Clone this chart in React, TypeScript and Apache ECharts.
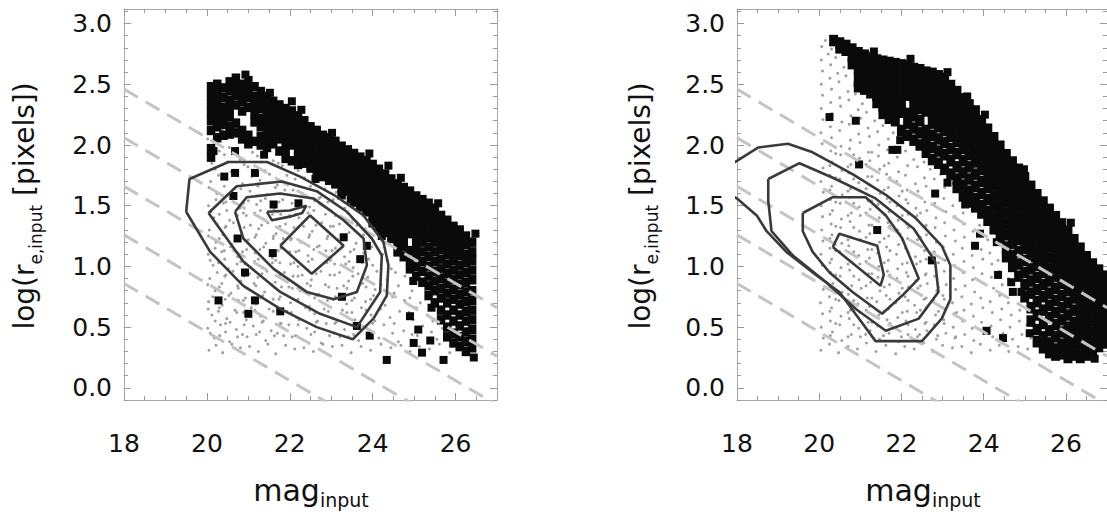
import React, { useEffect, useRef } from "react";
import * as echarts from "echarts";

// ---------- axes ----------
const xTicks = [18, 20, 22, 24, 26];
const yTicks = [0, 0.5, 1, 1.5, 2, 2.5, 3];
const X_MIN = 18;
const X_MAX = 27;
const Y_MIN = -0.1;
const Y_MAX = 3.12;
const X_MINOR = 0.5;
const Y_MINOR = 0.1;

// ---------- dashed constant-surface-brightness lines (same in both panels) ----------
const dashLines: number[][][] = [
  [[18, 2.46], [27, 0.66]],
  [[18, 2.06], [27, 0.26]],
  [[18, 1.66], [27, -0.14]],
  [[18, 1.26], [27, -0.54]],
  [[18, 0.86], [27, -0.94]],
];

// ---------- LEFT PANEL ----------
const grayLeft: number[] = [
  20.05,0.31, 20.38,0.29, 20.81,0.33, 21.24,0.30, 21.66,0.28, 22.12,0.32, 22.57,0.30, 23.03,0.34, 23.48,0.29, 23.95,0.31, 24.44,0.33, 24.9,0.3, 25.37,0.32, 25.86,0.29,
  20.22,0.35, 20.6,0.36, 21.03,0.34, 21.47,0.36, 21.9,0.35, 22.34,0.33, 22.8,0.36, 23.26,0.35, 23.72,0.34, 24.2,0.36, 24.68,0.35, 25.13,0.34, 25.61,0.36, 26.1,0.35,
  20.18,0.41, 20.55,0.38, 20.97,0.42, 21.42,0.39, 21.85,0.43, 22.3,0.40, 22.76,0.37, 23.21,0.42, 23.66,0.39, 24.15,0.41, 24.62,0.38, 25.08,0.43, 25.55,0.4, 26.02,0.38,
  20.08,0.45, 20.45,0.46, 20.86,0.44, 21.27,0.46, 21.7,0.45, 22.14,0.43, 22.6,0.46, 23.07,0.45, 23.54,0.44, 24.0,0.46, 24.48,0.45, 24.95,0.44, 25.42,0.46, 25.9,0.44,
  20.02,0.49, 20.33,0.52, 20.71,0.48, 21.12,0.51, 21.55,0.47, 21.98,0.52, 22.41,0.49, 22.88,0.53, 23.32,0.48, 23.79,0.5, 24.27,0.52, 24.75,0.47, 25.21,0.51, 25.68,0.49,
  20.2,0.55, 20.56,0.54, 20.95,0.56, 21.36,0.55, 21.79,0.53, 22.22,0.56, 22.67,0.55, 23.12,0.54, 23.57,0.56, 24.05,0.55, 24.52,0.53, 24.98,0.56, 25.45,0.55,
  20.12,0.6, 20.48,0.57, 20.88,0.62, 21.3,0.59, 21.71,0.63, 22.16,0.58, 22.6,0.61, 23.05,0.57, 23.5,0.62, 23.96,0.6, 24.42,0.58, 24.88,0.62, 25.32,0.6,
  20.03,0.65, 20.3,0.66, 20.68,0.64, 21.07,0.66, 21.5,0.65, 21.93,0.63, 22.38,0.66, 22.83,0.65, 23.27,0.64, 23.73,0.66, 24.19,0.65, 24.65,0.63, 25.05,0.66,
  20.04,0.71, 20.37,0.68, 20.76,0.72, 21.18,0.69, 21.6,0.73, 22.02,0.7, 22.47,0.67, 22.91,0.72, 23.37,0.69, 23.83,0.71, 24.3,0.68, 24.77,0.72, 25.15,0.7,
  20.14,0.75, 20.53,0.76, 20.93,0.74, 21.35,0.76, 21.77,0.75, 22.2,0.73, 22.65,0.76, 23.1,0.75, 23.56,0.74, 24.02,0.76, 24.48,0.75, 24.9,0.74,
  20.2,0.8, 20.58,0.78, 20.97,0.82, 21.39,0.79, 21.8,0.83, 22.25,0.8, 22.69,0.77, 23.14,0.82, 23.6,0.79, 24.06,0.81, 24.52,0.78, 24.95,0.8,
  20.02,0.85, 20.36,0.86, 20.74,0.84, 21.14,0.86, 21.56,0.85, 21.98,0.83, 22.42,0.86, 22.86,0.85, 23.3,0.84, 23.76,0.86, 24.2,0.85, 24.62,0.84,
  20.07,0.9, 20.43,0.92, 20.82,0.88, 21.23,0.91, 21.65,0.87, 22.08,0.92, 22.52,0.89, 22.97,0.93, 23.42,0.88, 23.88,0.91, 24.35,0.89, 24.78,0.92,
  20.25,0.95, 20.63,0.96, 21.03,0.94, 21.45,0.96, 21.87,0.95, 22.3,0.93, 22.75,0.96, 23.2,0.95, 23.65,0.94, 24.1,0.96, 24.55,0.95,
  20.15,1.01, 20.52,0.98, 20.92,1.02, 21.34,0.99, 21.76,1.03, 22.2,1.0, 22.63,0.97, 23.08,1.02, 23.53,0.99, 24.0,1.01, 24.45,0.98,
  20.08,1.05, 20.43,1.06, 20.82,1.04, 21.24,1.06, 21.66,1.05, 22.1,1.03, 22.54,1.06, 22.98,1.05, 23.43,1.04, 23.9,1.06, 24.35,1.05,
  20.03,1.1, 20.36,1.12, 20.74,1.08, 21.16,1.11, 21.58,1.07, 22.0,1.12, 22.44,1.09, 22.87,1.13, 23.32,1.08, 23.78,1.11, 24.24,1.1,
  20.2,1.15, 20.57,1.16, 20.96,1.14, 21.37,1.16, 21.79,1.15, 22.22,1.13, 22.66,1.16, 23.1,1.15, 23.55,1.14, 23.98,1.16,
  20.22,1.2, 20.6,1.18, 21.0,1.22, 21.42,1.19, 21.84,1.23, 22.27,1.2, 22.71,1.17, 23.15,1.22, 23.6,1.19, 24.02,1.21,
  20.04,1.25, 20.39,1.26, 20.78,1.24, 21.19,1.26, 21.61,1.25, 22.04,1.23, 22.48,1.26, 22.92,1.25, 23.37,1.24, 23.78,1.26,
  20.06,1.3, 20.44,1.32, 20.83,1.28, 21.25,1.31, 21.67,1.27, 22.1,1.32, 22.54,1.29, 22.98,1.33, 23.43,1.28, 23.82,1.31,
  20.24,1.35, 20.64,1.36, 21.05,1.34, 21.47,1.36, 21.9,1.35, 22.33,1.33, 22.77,1.36, 23.2,1.35, 23.62,1.34,
  20.17,1.4, 20.55,1.38, 20.95,1.42, 21.36,1.39, 21.78,1.43, 22.22,1.4, 22.66,1.37, 23.1,1.42, 23.52,1.39,
  20.1,1.45, 20.48,1.46, 20.88,1.44, 21.29,1.46, 21.71,1.45, 22.14,1.43, 22.58,1.46, 23.02,1.45, 23.4,1.44,
  20.04,1.5, 20.4,1.52, 20.79,1.48, 21.2,1.51, 21.62,1.47, 22.05,1.52, 22.48,1.49, 22.92,1.53, 23.33,1.48,
  20.22,1.55, 20.6,1.56, 21.0,1.54, 21.41,1.56, 21.83,1.55, 22.26,1.53, 22.7,1.56, 23.05,1.55,
  20.24,1.6, 20.63,1.58, 21.04,1.62, 21.46,1.59, 21.88,1.63, 22.31,1.6, 22.74,1.57, 23.12,1.61,
  20.05,1.65, 20.42,1.66, 20.82,1.64, 21.23,1.66, 21.65,1.65, 22.08,1.63, 22.5,1.66, 22.85,1.64,
  20.09,1.7, 20.47,1.72, 20.86,1.68, 21.28,1.71, 21.7,1.67, 22.13,1.72, 22.55,1.69,
  20.28,1.75, 20.68,1.76, 21.09,1.74, 21.51,1.76, 21.93,1.75, 22.35,1.73,
  20.2,1.8, 20.58,1.78, 20.99,1.82, 21.4,1.79, 21.82,1.83, 22.2,1.79,
  20.12,1.85, 20.5,1.86, 20.9,1.84, 21.32,1.86, 21.72,1.85,
  20.05,1.9, 20.42,1.92, 20.8,1.88, 21.22,1.91, 21.6,1.87,
  20.3,1.95, 20.7,1.96, 21.1,1.94,
  20.16,2.0, 20.54,1.98, 20.93,2.02,
  20.02,2.05, 20.3,2.06,
  20.06,2.1, 20.38,2.12,
  // denser core
  20.31,0.43, 20.74,0.42, 21.19,0.44, 21.63,0.43, 22.06,0.42, 22.51,0.44, 22.96,0.43, 23.41,0.42, 23.86,0.44,
  20.45,0.53, 20.9,0.52, 21.33,0.54, 21.77,0.53, 22.2,0.52, 22.64,0.54, 23.09,0.53, 23.53,0.52, 24.0,0.53,
  20.28,0.63, 20.72,0.62, 21.16,0.64, 21.6,0.63, 22.04,0.62, 22.48,0.64, 22.93,0.63, 23.38,0.62, 23.84,0.64,
  20.44,0.73, 20.88,0.72, 21.3,0.74, 21.74,0.73, 22.17,0.72, 22.6,0.74, 23.05,0.73, 23.5,0.72, 23.95,0.73,
  20.3,0.83, 20.76,0.82, 21.18,0.84, 21.62,0.83, 22.06,0.82, 22.5,0.84, 22.94,0.83, 23.38,0.82, 23.84,0.83,
  20.46,0.93, 20.9,0.92, 21.33,0.94, 21.77,0.93, 22.2,0.92, 22.64,0.94, 23.08,0.93, 23.52,0.92,
  20.28,1.03, 20.73,1.02, 21.15,1.04, 21.58,1.03, 22.02,1.02, 22.45,1.04, 22.9,1.03, 23.35,1.02, 23.75,1.03,
  20.42,1.13, 20.86,1.12, 21.28,1.14, 21.72,1.13, 22.15,1.12, 22.58,1.14, 23.02,1.13, 23.46,1.12,
  20.3,1.23, 20.74,1.22, 21.16,1.24, 21.6,1.23, 22.02,1.22, 22.46,1.24, 22.9,1.23, 23.3,1.22,
  20.46,1.33, 20.9,1.32, 21.32,1.34, 21.76,1.33, 22.2,1.32, 22.63,1.34, 23.05,1.33,
  20.3,1.43, 20.74,1.42, 21.15,1.44, 21.58,1.43, 22.0,1.42, 22.44,1.44, 22.86,1.43,
  20.46,1.53, 20.88,1.52, 21.3,1.54, 21.74,1.53, 22.16,1.52, 22.6,1.54,
];

const blackLeftCols: [number, number[]][] = [
  [20.1, [2.48, 2.41, 2.34, 2.27, 2.2, 2.12, 1.97, 1.9]],
  [20.25, [2.5, 2.43, 2.36, 2.29, 2.22, 2.15, 2.06]],
  [20.4, [2.47, 2.39, 2.31, 2.24, 2.17, 2.08]],
  [20.55, [2.52, 2.45, 2.37, 2.3, 2.23, 2.15, 2.09]],
  [20.7, [2.55, 2.48, 2.41, 2.33, 2.18, 2.1]],
  [20.85, [2.5, 2.43, 2.36, 2.28, 2.12, 2.05]],
  [21.0, [2.53, 2.46, 2.39, 2.31, 2.08, 2.01]],
  [21.15, [2.48, 2.4, 2.33, 2.26, 2.19, 2.03]],
  [21.3, [2.44, 2.37, 2.3, 2.22, 2.15, 2.07, 2.0]],
  [21.45, [2.4, 2.33, 2.26, 2.19, 2.12, 2.05, 1.98]],
  [21.6, [2.36, 2.29, 2.22, 2.15, 2.08, 2.01]],
  [21.75, [2.33, 2.26, 2.19, 2.12, 2.05, 1.95]],
  [21.9, [2.3, 2.23, 2.16, 2.09, 2.02, 1.95, 1.89]],
  [22.05, [2.28, 2.21, 2.14, 2.07, 2.0, 1.87]],
  [22.2, [2.24, 2.17, 2.1, 2.03, 1.96, 1.9, 1.84]],
  [22.35, [2.2, 2.13, 2.06, 1.99, 1.92, 1.85]],
  [22.5, [2.15, 2.08, 2.01, 1.94, 1.87, 1.81]],
  [22.65, [2.12, 2.05, 1.98, 1.91, 1.84, 1.77]],
  [22.8, [2.08, 2.01, 1.94, 1.87, 1.8, 1.74]],
  [22.95, [2.06, 1.99, 1.92, 1.85, 1.78, 1.71]],
  [23.1, [2.03, 1.96, 1.89, 1.82, 1.75, 1.68]],
  [23.25, [1.99, 1.92, 1.85, 1.78, 1.71, 1.65, 1.59]],
  [23.4, [1.96, 1.89, 1.82, 1.75, 1.68, 1.62]],
  [23.55, [1.93, 1.86, 1.79, 1.72, 1.65, 1.58, 1.53]],
  [23.7, [1.9, 1.83, 1.76, 1.69, 1.62, 1.55, 1.49]],
  [23.85, [1.87, 1.8, 1.73, 1.66, 1.59, 1.52, 1.45]],
  [24.0, [1.84, 1.77, 1.7, 1.63, 1.56, 1.49, 1.42, 1.36]],
  [24.15, [1.8, 1.73, 1.66, 1.59, 1.53, 1.46, 1.39, 1.32]],
  [24.3, [1.76, 1.69, 1.62, 1.56, 1.49, 1.42, 1.35, 1.28]],
  [24.45, [1.72, 1.65, 1.58, 1.51, 1.44, 1.37, 1.3, 1.23]],
  [24.6, [1.68, 1.61, 1.54, 1.47, 1.4, 1.33, 1.26, 1.19, 1.12]],
  [24.75, [1.65, 1.58, 1.51, 1.44, 1.37, 1.3, 1.23, 1.16, 1.08]],
  [24.9, [1.62, 1.55, 1.48, 1.41, 1.34, 1.27, 1.13, 1.05, 0.98]],
  [25.05, [1.58, 1.51, 1.44, 1.37, 1.3, 1.23, 1.16, 1.09, 1.0, 0.92]],
  [25.2, [1.55, 1.48, 1.41, 1.34, 1.27, 1.2, 1.12, 1.04, 0.96, 0.87]],
  [25.35, [1.52, 1.45, 1.38, 1.31, 1.24, 1.16, 1.08, 1.0, 0.92, 0.84, 0.76]],
  [25.5, [1.48, 1.41, 1.34, 1.27, 1.2, 1.12, 1.04, 0.96, 0.88, 0.8, 0.7]],
  [25.65, [1.42, 1.35, 1.28, 1.21, 1.14, 1.06, 0.98, 0.9, 0.82, 0.74, 0.64, 0.56]],
  [25.8, [1.38, 1.31, 1.24, 1.17, 1.1, 1.02, 0.94, 0.86, 0.78, 0.7, 0.6, 0.5, 0.42]],
  [25.95, [1.33, 1.26, 1.19, 1.12, 1.05, 0.97, 0.89, 0.81, 0.73, 0.64, 0.55, 0.45, 0.37]],
  [26.1, [1.3, 1.23, 1.16, 1.09, 1.01, 0.93, 0.85, 0.77, 0.69, 0.6, 0.51, 0.42, 0.34]],
  [26.25, [1.25, 1.18, 1.1, 1.03, 0.95, 0.87, 0.79, 0.71, 0.63, 0.55, 0.46, 0.38, 0.3]],
  [26.4, [1.2, 1.12, 1.05, 0.97, 0.89, 0.8, 0.72, 0.64, 0.56, 0.48, 0.4, 0.33]],
];

const blackLeftExtra: number[][] = [
  [20.42, 1.74], [20.68, 1.77], [21.16, 1.77], [20.64, 1.58], [21.61, 1.51], [22.21, 1.52],
  [20.74, 1.23], [21.59, 1.11], [23.3, 1.24], [23.86, 1.17], [23.7, 1.06], [20.92, 0.95],
  [20.28, 0.72], [21.16, 0.72], [21.0, 0.61], [21.77, 0.63], [23.26, 0.75], [23.62, 0.51],
  [23.93, 0.43], [24.34, 0.23], [24.9, 0.59], [25.1, 0.48], [24.99, 0.37], [25.19, 0.29],
  [25.39, 0.39], [25.71, 0.23], [26.44, 0.25], [20.16, 1.95], [20.68, 1.95],
  [20.93, 2.58], [21.52, 2.43], [22.28, 2.29], [23.02, 2.1], [23.92, 1.93], [24.68, 1.73],
  [25.58, 1.52], [26.48, 1.27], [21.38, 1.92], [22.62, 1.72], [23.47, 1.55], [24.22, 1.25],
  [24.98, 0.88], [25.42, 0.66], [22.05, 2.36], [24.38, 1.83],
];

const contoursLeft: number[][][] = [
  [[19.5, 1.45], [19.58, 1.72], [20.52, 1.86], [21.45, 1.86], [22.25, 1.74], [23.06, 1.59], [23.78, 1.42], [24.26, 1.2], [24.38, 1.01], [24.34, 0.76], [24.02, 0.57], [23.52, 0.4], [22.65, 0.5], [21.77, 0.65], [20.88, 0.84], [20.08, 1.12]],
  [[20.04, 1.44], [20.72, 1.66], [21.81, 1.7], [22.65, 1.62], [23.38, 1.45], [23.98, 1.23], [24.22, 1.09], [24.18, 0.79], [23.62, 0.5], [22.73, 0.61], [21.77, 0.79], [20.88, 1.04]],
  [[20.68, 1.45], [20.96, 1.57], [21.77, 1.6], [22.57, 1.56], [23.3, 1.38], [23.78, 1.23], [23.86, 1.01], [23.62, 0.79], [23.06, 0.73], [22.41, 0.79], [21.61, 0.98], [20.88, 1.23]],
  [[21.77, 1.17], [22.49, 1.42], [23.3, 1.17], [22.53, 0.94]],
  [[21.45, 1.45], [21.57, 1.38], [22.0, 1.41], [22.3, 1.44], [22.4, 1.5], [22.0, 1.46]],
];

// ---------- RIGHT PANEL ----------
const grayRight: number[] = [
  20.04,0.31, 20.47,0.29, 20.93,0.32, 21.38,0.3, 21.86,0.28, 22.31,0.32, 22.77,0.3, 23.24,0.33, 23.7,0.29, 24.16,0.31, 24.61,0.3, 25.07,0.32, 25.52,0.29,
  20.25,0.36, 20.7,0.34, 21.15,0.37, 21.62,0.35, 22.08,0.34, 22.54,0.37, 23.0,0.35, 23.47,0.34, 23.92,0.36, 24.38,0.35, 24.84,0.34, 25.3,0.36, 25.78,0.35,
  20.1,0.41, 20.55,0.39, 21.0,0.42, 21.47,0.4, 21.93,0.38, 22.39,0.42, 22.85,0.4, 23.3,0.41, 23.76,0.39, 24.22,0.42, 24.7,0.4, 25.15,0.41,
  20.32,0.46, 20.78,0.44, 21.24,0.47, 21.7,0.45, 22.16,0.44, 22.62,0.47, 23.08,0.45, 23.54,0.44, 24.0,0.46, 24.47,0.45, 24.93,0.44,
  20.05,0.5, 20.5,0.52, 20.96,0.49, 21.42,0.51, 21.88,0.5, 22.34,0.48, 22.8,0.52, 23.26,0.5, 23.72,0.49, 24.18,0.51, 24.64,0.5, 25.05,0.52,
  20.27,0.55, 20.73,0.57, 21.19,0.54, 21.65,0.56, 22.11,0.55, 22.57,0.53, 23.03,0.56, 23.49,0.55, 23.95,0.54, 24.41,0.56, 24.87,0.55,
  20.08,0.61, 20.53,0.59, 20.99,0.62, 21.45,0.6, 21.91,0.58, 22.37,0.62, 22.83,0.6, 23.29,0.61, 23.75,0.59, 24.21,0.62, 24.67,0.6,
  20.3,0.66, 20.76,0.64, 21.22,0.67, 21.68,0.65, 22.14,0.63, 22.6,0.66, 23.06,0.65, 23.52,0.64, 23.98,0.66, 24.44,0.65, 24.88,0.64,
  20.03,0.7, 20.48,0.72, 20.94,0.69, 21.4,0.71, 21.86,0.7, 22.32,0.68, 22.78,0.72, 23.24,0.7, 23.7,0.69, 24.16,0.71, 24.6,0.7,
  20.25,0.75, 20.71,0.77, 21.17,0.74, 21.63,0.76, 22.09,0.75, 22.55,0.73, 23.01,0.76, 23.47,0.75, 23.93,0.74, 24.39,0.76,
  20.1,0.81, 20.56,0.79, 21.02,0.82, 21.48,0.8, 21.94,0.78, 22.4,0.82, 22.86,0.8, 23.32,0.81, 23.78,0.79, 24.24,0.82, 24.65,0.8,
  20.33,0.86, 20.79,0.84, 21.25,0.87, 21.71,0.85, 22.17,0.83, 22.63,0.86, 23.09,0.85, 23.55,0.84, 24.01,0.86, 24.45,0.85,
  20.05,0.9, 20.51,0.92, 20.97,0.89, 21.43,0.91, 21.89,0.9, 22.35,0.88, 22.81,0.92, 23.27,0.9, 23.73,0.89, 24.19,0.91, 24.6,0.9,
  20.28,0.95, 20.74,0.97, 21.2,0.94, 21.66,0.96, 22.12,0.95, 22.58,0.93, 23.04,0.96, 23.5,0.95, 23.96,0.94, 24.38,0.96,
  20.07,1.01, 20.53,0.99, 20.99,1.02, 21.45,1.0, 21.91,0.98, 22.37,1.02, 22.83,1.0, 23.29,1.01, 23.75,0.99, 24.2,1.02,
  20.3,1.06, 20.76,1.04, 21.22,1.07, 21.68,1.05, 22.14,1.03, 22.6,1.06, 23.06,1.05, 23.52,1.04, 23.98,1.06, 24.35,1.05,
  20.04,1.1, 20.5,1.12, 20.96,1.09, 21.42,1.11, 21.88,1.1, 22.34,1.08, 22.8,1.12, 23.26,1.1, 23.72,1.09, 24.15,1.11,
  20.26,1.15, 20.72,1.17, 21.18,1.14, 21.64,1.16, 22.1,1.15, 22.56,1.13, 23.02,1.16, 23.48,1.15, 23.94,1.14,
  20.09,1.21, 20.55,1.19, 21.01,1.22, 21.47,1.2, 21.93,1.18, 22.39,1.22, 22.85,1.2, 23.31,1.21, 23.77,1.19, 24.1,1.22,
  20.31,1.26, 20.77,1.24, 21.23,1.27, 21.69,1.25, 22.15,1.23, 22.61,1.26, 23.07,1.25, 23.53,1.24, 23.95,1.26,
  20.06,1.3, 20.52,1.32, 20.98,1.29, 21.44,1.31, 21.9,1.3, 22.36,1.28, 22.82,1.32, 23.28,1.3, 23.74,1.29,
  20.29,1.35, 20.75,1.37, 21.21,1.34, 21.67,1.36, 22.13,1.35, 22.59,1.33, 23.05,1.36, 23.51,1.35, 23.9,1.34,
  20.08,1.41, 20.54,1.39, 21.0,1.42, 21.46,1.4, 21.92,1.38, 22.38,1.42, 22.84,1.4, 23.3,1.41,
  20.32,1.46, 20.78,1.44, 21.24,1.47, 21.7,1.45, 22.16,1.43, 22.62,1.46, 23.08,1.45, 23.5,1.44,
  20.05,1.5, 20.51,1.52, 20.97,1.49, 21.43,1.51, 21.89,1.5, 22.35,1.48, 22.81,1.52, 23.25,1.5,
  20.27,1.55, 20.73,1.57, 21.19,1.54, 21.65,1.56, 22.11,1.55, 22.57,1.53, 23.03,1.56, 23.45,1.55,
  20.1,1.61, 20.56,1.59, 21.02,1.62, 21.48,1.6, 21.94,1.58, 22.4,1.62, 22.86,1.6,
  20.3,1.66, 20.76,1.64, 21.22,1.67, 21.68,1.65, 22.14,1.63, 22.6,1.66, 23.05,1.65,
  20.04,1.7, 20.5,1.72, 20.96,1.69, 21.42,1.71, 21.88,1.7, 22.34,1.68, 22.8,1.72,
  20.26,1.75, 20.72,1.77, 21.18,1.74, 21.64,1.76, 22.1,1.75, 22.56,1.73, 22.95,1.76,
  20.09,1.81, 20.55,1.79, 21.01,1.82, 21.47,1.8, 21.93,1.78, 22.39,1.82, 22.7,1.8,
  20.31,1.86, 20.77,1.84, 21.23,1.87, 21.69,1.85, 22.15,1.83, 22.55,1.86,
  20.06,1.9, 20.52,1.92, 20.98,1.89, 21.44,1.91, 21.9,1.9, 22.3,1.88,
  20.28,1.95, 20.74,1.97, 21.2,1.94, 21.66,1.96, 22.1,1.95,
  20.07,2.01, 20.53,1.99, 20.99,2.02, 21.45,2.0, 21.9,1.98,
  20.3,2.06, 20.76,2.04, 21.22,2.07, 21.68,2.05,
  20.04,2.1, 20.5,2.12, 20.96,2.09, 21.42,2.11, 21.8,2.1,
  20.27,2.15, 20.73,2.17, 21.19,2.14, 21.55,2.16,
  20.09,2.21, 20.55,2.19, 21.01,2.22, 21.35,2.2,
  20.31,2.26, 20.77,2.24, 21.15,2.27,
  20.05,2.3, 20.52,2.32, 20.95,2.29,
  20.28,2.35, 20.72,2.37, 21.05,2.34,
  20.08,2.41, 20.5,2.39, 20.88,2.42,
  20.3,2.46, 20.7,2.44,
  20.05,2.5, 20.48,2.52, 20.85,2.49,
  20.26,2.55, 20.65,2.57,
  20.08,2.61, 20.45,2.59,
  20.28,2.66, 20.6,2.64,
  20.05,2.7, 20.4,2.72,
  20.22,2.75,
  20.06,2.81, 20.3,2.79,
  20.15,2.86,
  // denser core
  20.27,0.43, 20.7,0.42, 21.13,0.44, 21.56,0.43, 22.0,0.42, 22.44,0.44, 22.88,0.43, 23.32,0.42,
  20.4,0.53, 20.84,0.52, 21.28,0.54, 21.72,0.53, 22.16,0.52, 22.6,0.54, 23.04,0.53,
  20.26,0.63, 20.7,0.62, 21.14,0.64, 21.58,0.63, 22.02,0.62, 22.46,0.64, 22.9,0.63, 23.34,0.62,
  20.4,0.73, 20.84,0.72, 21.28,0.74, 21.72,0.73, 22.16,0.72, 22.6,0.74, 23.04,0.73,
  20.26,0.83, 20.7,0.82, 21.14,0.84, 21.58,0.83, 22.02,0.82, 22.46,0.84, 22.9,0.83,
  20.4,0.93, 20.84,0.92, 21.28,0.94, 21.72,0.93, 22.16,0.92, 22.6,0.94,
  20.26,1.03, 20.7,1.02, 21.14,1.04, 21.58,1.03, 22.02,1.02, 22.46,1.04, 22.9,1.03,
  20.4,1.13, 20.84,1.12, 21.28,1.14, 21.72,1.13, 22.16,1.12, 22.6,1.14,
  20.26,1.23, 20.7,1.22, 21.14,1.24, 21.58,1.23, 22.02,1.22, 22.46,1.24,
  20.4,1.33, 20.84,1.32, 21.28,1.34, 21.72,1.33, 22.16,1.32, 22.6,1.34,
  20.26,1.43, 20.7,1.42, 21.14,1.44, 21.58,1.43, 22.02,1.42, 22.46,1.44,
  20.4,1.53, 20.84,1.52, 21.28,1.54, 21.72,1.53, 22.16,1.52,
  20.26,1.63, 20.7,1.62, 21.14,1.64, 21.58,1.63, 22.02,1.62,
  20.4,1.73, 20.84,1.72, 21.28,1.74, 21.72,1.73,
  20.26,1.83, 20.7,1.82, 21.14,1.84, 21.58,1.83,
  20.4,1.93, 20.84,1.92, 21.28,1.94,
];

const blackRightCols: [number, number[]][] = [
  [20.35, [2.86]],
  [20.5, [2.84, 2.8]],
  [20.65, [2.82, 2.78]],
  [20.8, [2.79, 2.73, 2.67]],
  [20.95, [2.76, 2.7, 2.63, 2.55, 2.48]],
  [21.1, [2.74, 2.68, 2.61, 2.54, 2.46]],
  [21.25, [2.72, 2.65, 2.58, 2.51, 2.43]],
  [21.4, [2.7, 2.63, 2.56, 2.49, 2.41, 2.35]],
  [21.55, [2.69, 2.62, 2.55, 2.48, 2.4, 2.32, 2.26]],
  [21.7, [2.68, 2.6, 2.53, 2.46, 2.38, 2.3, 2.22]],
  [21.85, [2.67, 2.6, 2.52, 2.44, 2.36, 2.28, 2.2]],
  [22.0, [2.66, 2.59, 2.51, 2.43, 2.35, 2.27, 2.12]],
  [22.15, [2.65, 2.57, 2.49, 2.41, 2.26, 2.18, 2.08]],
  [22.3, [2.63, 2.56, 2.48, 2.4, 2.32, 2.24, 2.14, 2.04]],
  [22.45, [2.62, 2.54, 2.46, 2.38, 2.3, 2.2, 2.1, 2.0]],
  [22.6, [2.6, 2.52, 2.44, 2.36, 2.28, 2.12, 2.03, 1.94]],
  [22.75, [2.59, 2.51, 2.43, 2.35, 2.26, 2.18, 2.08, 1.98, 1.88]],
  [22.9, [2.57, 2.49, 2.41, 2.32, 2.24, 2.15, 2.05, 1.95, 1.85]],
  [23.05, [2.55, 2.47, 2.38, 2.3, 2.21, 2.12, 2.02, 1.92, 1.8]],
  [23.2, [2.49, 2.41, 2.33, 2.25, 2.16, 2.07, 1.97, 1.87, 1.76]],
  [23.35, [2.44, 2.36, 2.28, 2.2, 2.12, 2.03, 1.93, 1.82, 1.72, 1.65]],
  [23.5, [2.38, 2.31, 2.23, 2.15, 2.06, 1.97, 1.87, 1.77, 1.67, 1.58]],
  [23.65, [2.33, 2.26, 2.18, 2.1, 2.01, 1.92, 1.82, 1.72, 1.62, 1.53]],
  [23.8, [2.28, 2.2, 2.12, 2.04, 1.95, 1.86, 1.76, 1.66, 1.56, 1.49]],
  [23.95, [2.2, 2.13, 2.05, 1.97, 1.89, 1.8, 1.7, 1.6, 1.5, 1.44]],
  [24.1, [2.13, 2.06, 1.98, 1.9, 1.82, 1.74, 1.65, 1.55, 1.45, 1.38]],
  [24.25, [2.06, 1.99, 1.91, 1.83, 1.75, 1.67, 1.58, 1.49, 1.4, 1.31]],
  [24.4, [1.99, 1.92, 1.84, 1.76, 1.68, 1.6, 1.51, 1.42, 1.33, 1.24]],
  [24.55, [1.92, 1.85, 1.77, 1.69, 1.61, 1.53, 1.44, 1.35, 1.26, 1.16, 1.08]],
  [24.7, [1.86, 1.79, 1.71, 1.63, 1.55, 1.46, 1.37, 1.28, 1.19, 1.09, 1.0]],
  [24.85, [1.8, 1.73, 1.65, 1.57, 1.49, 1.4, 1.31, 1.22, 1.12, 1.02, 0.92]],
  [25.0, [1.73, 1.66, 1.58, 1.5, 1.42, 1.33, 1.24, 1.15, 1.05, 0.95, 0.85, 0.75]],
  [25.15, [1.66, 1.59, 1.51, 1.43, 1.35, 1.26, 1.17, 1.08, 0.98, 0.88, 0.78, 0.66, 0.55]],
  [25.3, [1.59, 1.52, 1.44, 1.36, 1.28, 1.19, 1.1, 1.01, 0.91, 0.81, 0.71, 0.6, 0.48, 0.38]],
  [25.45, [1.53, 1.46, 1.38, 1.3, 1.22, 1.13, 1.04, 0.95, 0.85, 0.75, 0.64, 0.53, 0.42, 0.33]],
  [25.6, [1.47, 1.4, 1.32, 1.24, 1.16, 1.07, 0.98, 0.88, 0.78, 0.68, 0.58, 0.47, 0.37, 0.29]],
  [25.75, [1.41, 1.34, 1.26, 1.18, 1.1, 1.01, 0.92, 0.82, 0.72, 0.62, 0.52, 0.42, 0.32, 0.27]],
  [25.9, [1.35, 1.28, 1.2, 1.12, 1.04, 0.95, 0.86, 0.76, 0.66, 0.56, 0.46, 0.36, 0.28]],
  [26.05, [1.29, 1.22, 1.14, 1.06, 0.98, 0.89, 0.8, 0.7, 0.6, 0.5, 0.41, 0.32, 0.25]],
  [26.2, [1.22, 1.15, 1.07, 0.99, 0.91, 0.83, 0.74, 0.64, 0.54, 0.45, 0.36, 0.27]],
  [26.35, [1.15, 1.08, 1.0, 0.92, 0.84, 0.76, 0.67, 0.58, 0.49, 0.4, 0.31, 0.25]],
  [26.5, [1.08, 1.01, 0.94, 0.86, 0.78, 0.7, 0.61, 0.52, 0.43, 0.35, 0.27]],
  [26.65, [1.02, 0.95, 0.88, 0.8, 0.72, 0.64, 0.55, 0.46, 0.38, 0.3]],
  [26.8, [0.97, 0.9, 0.82, 0.74, 0.66, 0.58, 0.5, 0.42, 0.34]],
  [26.95, [0.92, 0.85, 0.77, 0.69, 0.61, 0.53, 0.45, 0.37]],
];

const blackRightExtra: number[][] = [
  [20.25, 2.23], [20.89, 2.2], [21.78, 1.96], [21.9, 1.96], [20.97, 1.84], [22.46, 2.09],
  [22.82, 1.6], [23.55, 1.51], [23.99, 1.47], [21.41, 1.3], [23.91, 1.27], [23.79, 1.17],
  [22.74, 1.05], [24.35, 0.93], [24.67, 0.87], [24.71, 0.79], [24.92, 0.79], [24.47, 0.41],
  [24.07, 0.47],
  [21.33, 2.77], [22.22, 2.71], [23.12, 2.6], [24.03, 2.25], [24.98, 1.8], [26.12, 1.36],
  [21.97, 2.04], [23.12, 1.69], [24.32, 1.2], [25.12, 0.45], [26.7, 0.24], [23.6, 2.4],
];

const contoursRight: number[][][] = [
  [[17.6, 1.79], [18.0, 1.87], [18.52, 1.98], [19.24, 2.01], [19.84, 1.94], [20.81, 1.76], [21.62, 1.59], [22.34, 1.4], [22.98, 1.17], [23.19, 1.01], [23.19, 0.73], [22.98, 0.57], [22.5, 0.385], [21.37, 0.385], [20.49, 0.79], [19.92, 0.93], [19.2, 1.12], [18.72, 1.29], [18.48, 1.42], [18.0, 1.56], [17.6, 1.62]],
  [[18.76, 1.72], [19.52, 1.85], [20.33, 1.73], [21.37, 1.56], [22.3, 1.31], [22.82, 1.04], [22.9, 0.79], [22.42, 0.57], [21.62, 0.47], [20.89, 0.65], [20.17, 0.87], [19.36, 1.09], [18.84, 1.29], [18.76, 1.54]],
  [[19.6, 1.44], [20.33, 1.57], [21.13, 1.57], [21.62, 1.42], [22.02, 1.23], [22.42, 0.9], [22.02, 0.76], [21.53, 0.61], [20.81, 0.79], [20.25, 0.95], [19.84, 1.12], [19.6, 1.29]],
  [[20.33, 1.16], [20.49, 1.27], [21.41, 1.17], [21.57, 0.93], [21.49, 0.84]],
];

// ---------- styling constants ----------
const FONT = "DejaVu Sans";
const FRAME = "#a8a8a8";
const TICK = "#9a9a9a";
const TEXT = "#111111";

function pairs(flat: number[]): number[][] {
  const out: number[][] = [];
  for (let i = 0; i + 1 < flat.length; i += 2) out.push([flat[i], flat[i + 1]]);
  return out;
}
function cols(c: [number, number[]][]): number[][] {
  const out: number[][] = [];
  c.forEach(([x, ys]) => ys.forEach((y) => out.push([x, y])));
  return out;
}

export default function App() {
  const ref = useRef<HTMLDivElement>(null);
  useEffect(() => {
    if (!ref.current) return;
    const chart = echarts.init(ref.current, null, { renderer: "svg" });
    const grids = [
      { left: 124, top: 9, width: 373, height: 391 },
      { left: 737, top: 9, width: 372, height: 391 },
    ];
    const xAxis: any[] = [];
    const yAxis: any[] = [];
    grids.forEach((_, gi) => {
      const mainX = (pos: string, labels: boolean) => ({
        type: "value", gridIndex: gi, position: pos, min: X_MIN, max: X_MAX,
        axisLine: { show: true, onZero: false, lineStyle: { color: FRAME, width: 1 } },
        axisTick: { show: true, inside: true, length: 7, customValues: xTicks, lineStyle: { color: TICK } },
        axisLabel: { show: labels, customValues: xTicks, margin: 31, fontSize: 25, fontFamily: FONT, color: TEXT, formatter: (v: number) => String(v) },
        splitLine: { show: false },
      });
      const minorX = (pos: string) => ({
        type: "value", gridIndex: gi, position: pos, min: X_MIN, max: X_MAX, interval: X_MINOR,
        axisLine: { show: false, onZero: false },
        axisTick: { show: true, inside: true, length: 4, lineStyle: { color: TICK } },
        axisLabel: { show: false }, splitLine: { show: false },
      });
      const mainY = (pos: string, labels: boolean) => ({
        type: "value", gridIndex: gi, position: pos, min: Y_MIN, max: Y_MAX,
        axisLine: { show: true, onZero: false, lineStyle: { color: FRAME, width: 1 } },
        axisTick: { show: true, inside: true, length: 7, customValues: yTicks, lineStyle: { color: TICK } },
        axisLabel: { show: labels, customValues: yTicks, margin: 12, fontSize: 25, fontFamily: FONT, color: TEXT, formatter: (v: number) => v.toFixed(1) },
        splitLine: { show: false },
      });
      const minorY = (pos: string) => ({
        type: "value", gridIndex: gi, position: pos, min: Y_MIN, max: Y_MAX, interval: Y_MINOR,
        axisLine: { show: false, onZero: false },
        axisTick: { show: true, inside: true, length: 4, lineStyle: { color: TICK } },
        axisLabel: { show: false }, splitLine: { show: false },
      });
      xAxis.push(mainX("bottom", true), minorX("bottom"), mainX("top", false), minorX("top"));
      yAxis.push(mainY("left", true), minorY("left"), mainY("right", false), minorY("right"));
    });

    const panels = [
      { gray: pairs(grayLeft), black: cols(blackLeftCols), extra: blackLeftExtra, contours: contoursLeft, band: [8.5, 9.5] },
      { gray: pairs(grayRight), black: cols(blackRightCols), extra: blackRightExtra, contours: contoursRight, band: [9, 11.5] },
    ];
    const series: any[] = [];
    panels.forEach((p, gi) => {
      const ai = gi * 4;
      series.push({
        type: "scatter", xAxisIndex: ai, yAxisIndex: ai, data: p.gray, symbol: "circle", symbolSize: 3,
        itemStyle: { color: "#a0a0a0", opacity: 1 }, silent: true, z: 1,
      });
      series.push({
        type: "scatter", xAxisIndex: ai, yAxisIndex: ai, data: p.black, symbol: "rect", symbolSize: p.band,
        itemStyle: { color: "#0a0a0a", opacity: 1 }, silent: true, z: 2,
      });
      series.push({
        type: "scatter", xAxisIndex: ai, yAxisIndex: ai, data: p.extra, symbol: "rect", symbolSize: 8,
        itemStyle: { color: "#0a0a0a", opacity: 1 }, silent: true, z: 2,
      });
      dashLines.forEach((l) =>
        series.push({
          type: "line", xAxisIndex: ai, yAxisIndex: ai, data: l, symbol: "none", clip: true, silent: true, z: 3,
          lineStyle: { type: [16, 9], width: 3, color: "#c4c4c4" },
        })
      );
      p.contours.forEach((c) =>
        series.push({
          type: "line", xAxisIndex: ai, yAxisIndex: ai, data: [...c, c[0]], symbol: "none", clip: true, silent: true, z: 4,
          lineStyle: { width: 2.6, color: "#3a3a3a" },
        })
      );
    });

    const yTitle = "{a|log(r}{s|e,input}{a| [pixels])}";
    const xTitle = "{a|mag}{s|input}";
    const yRich = {
      a: { fontSize: 28, fontFamily: FONT, fill: TEXT, lineHeight: 40, verticalAlign: "middle" },
      s: { fontSize: 17, fontFamily: FONT, fill: TEXT, lineHeight: 17, verticalAlign: "bottom" },
    };
    const xRich = {
      a: { fontSize: 30, fontFamily: FONT, fill: TEXT, lineHeight: 38, verticalAlign: "middle" },
      s: { fontSize: 19, fontFamily: FONT, fill: TEXT, lineHeight: 19, verticalAlign: "bottom" },
    };
    const graphic = [
      { type: "text", x: 24, y: 206, rotation: Math.PI / 2, style: { text: yTitle, rich: yRich, textAlign: "center", textVerticalAlign: "middle", align: "center", verticalAlign: "middle" } },
      { type: "text", x: 640, y: 206, rotation: Math.PI / 2, style: { text: yTitle, rich: yRich, textAlign: "center", textVerticalAlign: "middle", align: "center", verticalAlign: "middle" } },
      { type: "text", x: 311, y: 490, style: { text: xTitle, rich: xRich, textAlign: "center", textVerticalAlign: "middle", align: "center", verticalAlign: "middle" } },
      { type: "text", x: 923, y: 490, style: { text: xTitle, rich: xRich, textAlign: "center", textVerticalAlign: "middle", align: "center", verticalAlign: "middle" } },
    ];

    chart.setOption({
      animation: false,
      backgroundColor: "#ffffff",
      grid: grids,
      xAxis,
      yAxis,
      series,
      graphic,
    });
    return () => chart.dispose();
  }, []);
  return (
    <div
      ref={ref}
      style={{ position: "absolute", left: 0, top: 0, width: 1107, height: 517, background: "#fff" }}
    />
  );
}
